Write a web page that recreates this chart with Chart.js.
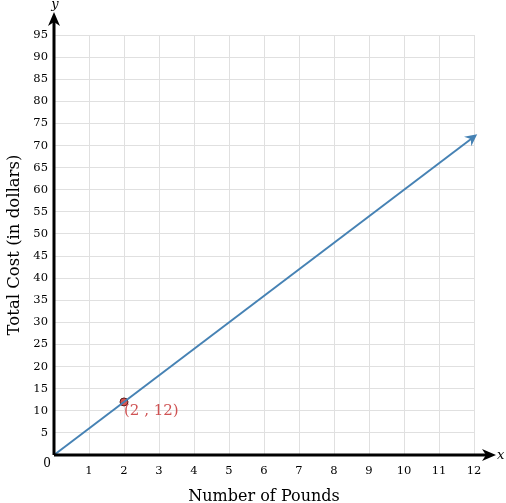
<!DOCTYPE html>
<html>
<head>
<meta charset="utf-8">
<script src="https://cdn.jsdelivr.net/npm/chart.js@4/dist/chart.umd.min.js"></script>
<style>
  html, body { margin: 0; padding: 0; background: #fff; }
  #wrap { width: 506px; height: 503px; }
</style>
</head>
<body>
<div id="wrap"><canvas id="cost-chart"></canvas></div>
<script>
// line: total cost vs pounds
const lineX = [0, 12];
const lineY = [0, 72];
// marked point
const pointX = [2];
const pointY = [12];
const pointLabels = ['(2 , 12)'];
// axis ranges / steps
const xMax = 12, xStep = 1;
const yMax = 95, yStep = 5;

const serif = '"DejaVu Serif", "Liberation Serif", serif';

// draws axis arrows, the line arrowhead and the point label
const decor = {
  id: 'decor',
  afterDatasetsDraw(chart) {
    const ctx = chart.ctx;
    const xs = chart.scales.x, ys = chart.scales.y;
    const ox = xs.getPixelForValue(0), oy = ys.getPixelForValue(0);
    ctx.save();

    // axes
    ctx.strokeStyle = '#000';
    ctx.fillStyle = '#000';
    ctx.lineWidth = 3;
    ctx.beginPath();
    ctx.moveTo(ox, oy); ctx.lineTo(488, oy);
    ctx.moveTo(ox, oy); ctx.lineTo(ox, 20);
    ctx.stroke();
    // x arrowhead
    ctx.beginPath();
    ctx.moveTo(496, oy); ctx.lineTo(482, oy - 6); ctx.lineTo(486, oy); ctx.lineTo(482, oy + 6);
    ctx.closePath(); ctx.fill();
    // y arrowhead
    ctx.beginPath();
    ctx.moveTo(ox, 12); ctx.lineTo(ox - 6, 26); ctx.lineTo(ox, 22); ctx.lineTo(ox + 6, 26);
    ctx.closePath(); ctx.fill();

    ctx.font = 'italic 13px ' + serif;
    ctx.textAlign = 'left'; ctx.textBaseline = 'middle';
    ctx.fillText('x', 497, oy + 1);
    ctx.textAlign = 'center';
    ctx.fillText('y', ox + 1, 5);

    ctx.font = '12px ' + serif;
    ctx.textAlign = 'center'; ctx.textBaseline = 'middle';
    ctx.fillText('0', ox - 7, oy + 9);

    // arrowhead at end of the cost line
    const n = lineX.length - 1;
    const x1 = xs.getPixelForValue(lineX[n - 1]), y1 = ys.getPixelForValue(lineY[n - 1]);
    const x2 = xs.getPixelForValue(lineX[n]), y2 = ys.getPixelForValue(lineY[n]);
    const a = Math.atan2(y2 - y1, x2 - x1);
    const tx = x2 + 4 * Math.cos(a), ty = y2 + 4 * Math.sin(a);
    ctx.fillStyle = '#4682b4';
    ctx.translate(tx, ty); ctx.rotate(a);
    ctx.beginPath();
    ctx.moveTo(0, 0); ctx.lineTo(-12, -6); ctx.lineTo(-8, 0); ctx.lineTo(-12, 6);
    ctx.closePath(); ctx.fill();
    ctx.setTransform(1, 0, 0, 1, 0, 0);
    ctx.scale(chart.currentDevicePixelRatio, chart.currentDevicePixelRatio);

    // point label
    ctx.fillStyle = '#cf5253';
    ctx.font = '15px ' + serif;
    ctx.textAlign = 'left'; ctx.textBaseline = 'middle';
    pointLabels.forEach((t, i) => {
      ctx.fillText(t, xs.getPixelForValue(pointX[i]), ys.getPixelForValue(pointY[i]) + 9);
    });
    ctx.restore();
  }
};

const ctx = document.getElementById('cost-chart').getContext('2d');
new Chart(ctx, {
  type: 'scatter',
  data: {
    datasets: [{
      data: lineX.map((x, i) => ({ x: x, y: lineY[i] })),
      showLine: true,
      borderColor: '#4682b4',
      borderWidth: 2,
      pointRadius: 0,
      clip: false
    }, {
      data: pointX.map((x, i) => ({ x: x, y: pointY[i] })),
      backgroundColor: '#d9534f',
      borderColor: '#5a1a1a',
      borderWidth: 1,
      pointRadius: 4
    }]
  },
  options: {
    responsive: true,
    maintainAspectRatio: false,
    animation: false,
    layout: { padding: { top: 35, right: 32, left: 0, bottom: 0 } },
    plugins: { legend: { display: false }, tooltip: { enabled: false } },
    scales: {
      x: {
        type: 'linear', min: 0, max: xMax,
        afterFit(s) { s.height = 48; },
        grid: { color: '#e0e0e0', drawTicks: false },
        border: { display: false },
        ticks: {
          stepSize: xStep, padding: 9, color: '#000',
          font: { family: serif, size: 11.5 },
          callback: v => v === 0 ? '' : v
        },
        title: {
          display: true, text: 'Number of Pounds', color: '#000',
          font: { family: serif, size: 16 }, padding: { top: 18, bottom: -3 }
        }
      },
      y: {
        type: 'linear', min: 0, max: yMax,
        afterFit(s) { s.width = 54; },
        grid: { color: '#e0e0e0', drawTicks: false },
        border: { display: false },
        ticks: {
          stepSize: yStep, padding: 6, color: '#000',
          font: { family: serif, size: 11.5 },
          callback: v => v === 0 ? '' : v
        },
        title: {
          display: true, text: 'Total Cost (in dollars)', color: '#000',
          font: { family: serif, size: 16.5 }, padding: { top: 5, bottom: 0 }
        }
      }
    }
  },
  plugins: [decor]
});
</script>
</body>
</html>
